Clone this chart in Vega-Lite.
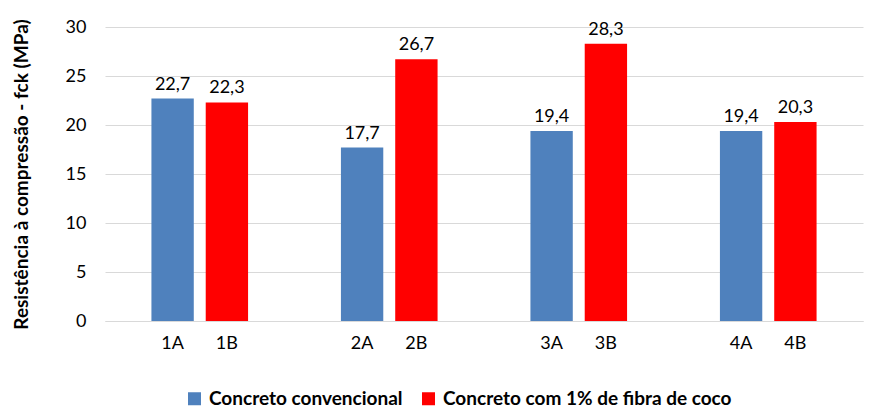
{
  "$schema": "https://vega.github.io/schema/vega-lite/v6.json",
  "width": 758,
  "height": 294,
  "autosize": {"type": "none"},
  "padding": {"left": 105, "top": 27, "right": 8, "bottom": 93},
  "background": "white",
  "config": {
    "font": "Lato",
    "view": {"stroke": null},
    "locale": {"number": {"decimal": ",", "thousands": ".", "grouping": [3], "currency": ["", ""]}}
  },
  "data": {
    "values": [
      {"grupo": "1", "serie": "Concreto convencional", "rotulo": "1A", "fck": 22.7},
      {"grupo": "1", "serie": "Concreto com 1% de fibra de coco", "rotulo": "1B", "fck": 22.3},
      {"grupo": "2", "serie": "Concreto convencional", "rotulo": "2A", "fck": 17.7},
      {"grupo": "2", "serie": "Concreto com 1% de fibra de coco", "rotulo": "2B", "fck": 26.7},
      {"grupo": "3", "serie": "Concreto convencional", "rotulo": "3A", "fck": 19.4},
      {"grupo": "3", "serie": "Concreto com 1% de fibra de coco", "rotulo": "3B", "fck": 28.3},
      {"grupo": "4", "serie": "Concreto convencional", "rotulo": "4A", "fck": 19.4},
      {"grupo": "4", "serie": "Concreto com 1% de fibra de coco", "rotulo": "4B", "fck": 20.3}
    ]
  },
  "encoding": {
    "x": {
      "field": "grupo", "type": "nominal",
      "scale": {"paddingInner": 0.49, "paddingOuter": 0.245},
      "axis": {"title": null, "labels": false, "ticks": false, "domain": true, "domainColor": "#d9d9d9", "domainWidth": 1}
    },
    "xOffset": {
      "field": "serie", "type": "nominal",
      "sort": ["Concreto convencional", "Concreto com 1% de fibra de coco"],
      "scale": {"paddingInner": 0.22, "paddingOuter": 0}
    }
  },
  "layer": [
    {
      "mark": {"type": "bar"},
      "encoding": {
        "y": {
          "field": "fck", "type": "quantitative",
          "scale": {"domain": [0, 30]},
          "axis": {
            "title": "Resistência à compressão - fck (MPa)",
            "titleFontSize": 19, "titleFontWeight": "bold", "titleColor": "#000000",
            "titlePadding": 34,
            "values": [0, 5, 10, 15, 20, 25, 30],
            "labelFontSize": 18, "labelColor": "#000000", "labelPadding": 19,
            "ticks": false, "domain": false,
            "gridColor": "#d9d9d9", "gridWidth": 1
          }
        },
        "color": {
          "field": "serie", "type": "nominal",
          "sort": ["Concreto convencional", "Concreto com 1% de fibra de coco"],
          "scale": {"domain": ["Concreto convencional", "Concreto com 1% de fibra de coco"], "range": ["#4f81bd", "#ff0000"]},
          "legend": {
            "title": null, "orient": "none", "direction": "horizontal",
            "legendX": 80, "legendY": 362,
            "symbolType": "square", "symbolSize": 169, "symbolStrokeWidth": 0,
            "labelFontSize": 19, "labelFontWeight": "bold", "labelColor": "#000000",
            "labelLimit": 400, "columnPadding": 16, "labelOffset": 5
          }
        }
      }
    },
    {
      "mark": {"type": "text", "baseline": "alphabetic", "dy": -9, "fontSize": 18, "color": "#000000"},
      "encoding": {
        "y": {"field": "fck", "type": "quantitative"},
        "text": {"field": "fck", "type": "quantitative", "format": ".1f"}
      }
    },
    {
      "mark": {"type": "text", "baseline": "middle", "dy": 23, "fontSize": 18, "color": "#000000"},
      "encoding": {
        "y": {"datum": 0, "type": "quantitative"},
        "text": {"field": "rotulo", "type": "nominal"}
      }
    }
  ]
}
